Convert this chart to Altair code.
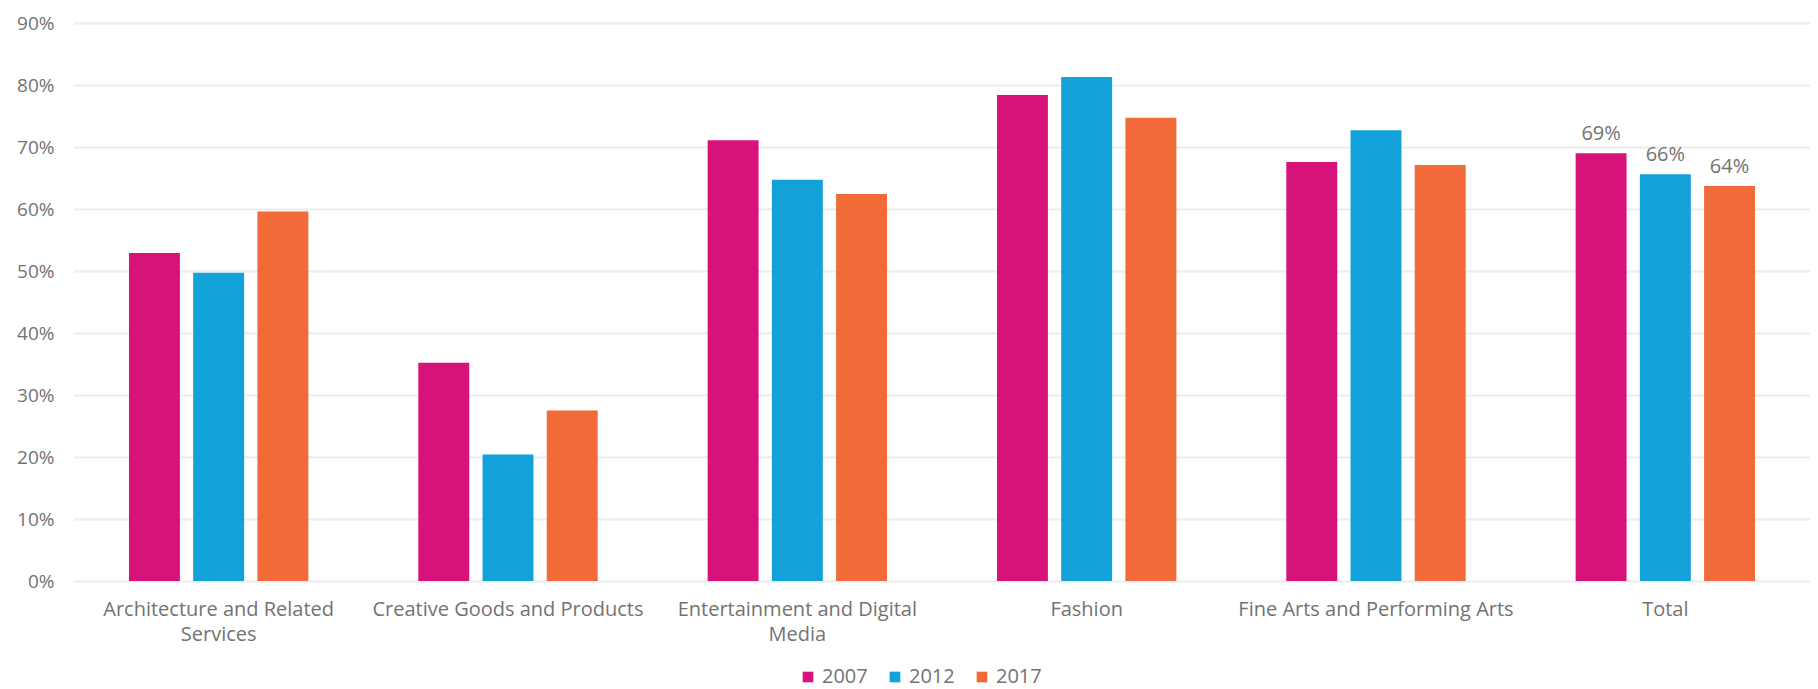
import altair as alt
import pandas as pd

categories = [
    "Architecture and Related Services",
    "Creative Goods and Products",
    "Entertainment and Digital Media",
    "Fashion",
    "Fine Arts and Performing Arts",
    "Total",
]
years = ["2007", "2012", "2017"]
v2007 = [52.9, 35.2, 71.1, 78.4, 67.6, 69.0]
v2012 = [49.7, 20.4, 64.7, 81.3, 72.7, 65.6]
v2017 = [59.6, 27.5, 62.4, 74.7, 67.1, 63.7]
colors = ["#D7137B", "#13A1DA", "#F16B38"]
y_ticks = [0, 0.1, 0.2, 0.3, 0.4, 0.5, 0.6, 0.7, 0.8, 0.9]
wrapped = {
    "Architecture and Related Services": ["Architecture and Related", "Services"],
    "Entertainment and Digital Media": ["Entertainment and Digital", "Media"],
}

rows = []
for i, c in enumerate(categories):
    for yr, vals in zip(years, [v2007, v2012, v2017]):
        rows.append({"category": c, "year": yr, "value": vals[i] / 100})
df = pd.DataFrame(rows)

FONT = "Open Sans"
GRAY = "#737373"
FS = 20

label_expr = " : ".join(
    [f"datum.label == '{k}' ? {v!r}" for k, v in wrapped.items()]
) + " : datum.label"

x = alt.X(
    "category:N",
    sort=categories,
    scale=alt.Scale(paddingInner=0.38, paddingOuter=0.19),
    axis=alt.Axis(
        title=None, labelAngle=0, ticks=False, tickSize=0, domain=False,
        labelPadding=18, labelFontSize=FS, labelLineHeight=25,
        labelColor=GRAY, labelFont=FONT, labelExpr=label_expr, labelLimit=0,
        grid=False,
    ),
)
xo = alt.XOffset("year:N", sort=years, scale=alt.Scale(paddingInner=0.207, paddingOuter=0))
y = alt.Y(
    "value:Q",
    scale=alt.Scale(domain=[0, 0.9], nice=False),
    axis=alt.Axis(
        title=None, format=".0%", values=y_ticks, ticks=False, tickSize=0,
        domain=False, labelPadding=20, labelFontSize=19, labelColor=GRAY,
        labelFont=FONT, grid=True, gridColor="#ececec", gridWidth=2,
    ),
)

bars = alt.Chart().mark_bar().encode(
    x=x, xOffset=xo, y=y,
    color=alt.Color(
        "year:N",
        scale=alt.Scale(domain=years, range=colors),
        legend=alt.Legend(
            orient="none", legendX=724, legendY=644, direction="horizontal",
            title=None, symbolType="square", symbolSize=114, symbolStrokeWidth=0,
            labelFontSize=FS, labelFont=FONT, labelColor=GRAY, labelOffset=4,
            columnPadding=17, padding=0,
        ),
    ),
)

labels = alt.Chart().mark_text(
    dy=-13, baseline="alphabetic", fontSize=FS, font=FONT, color=GRAY
).encode(
    x=x, xOffset=xo, y=y, text=alt.Text("value:Q", format=".0%")
).transform_filter(alt.datum.category == "Total")

chart = alt.layer(bars, labels, data=df).properties(
    width=1736, height=558,
    padding={"left": 66, "top": 15, "right": 0, "bottom": 108},
    autosize=alt.AutoSizeParams(type="none"),
).configure_view(stroke=None)

chart.save("out.html", embed_options={"renderer": "svg", "actions": False})
